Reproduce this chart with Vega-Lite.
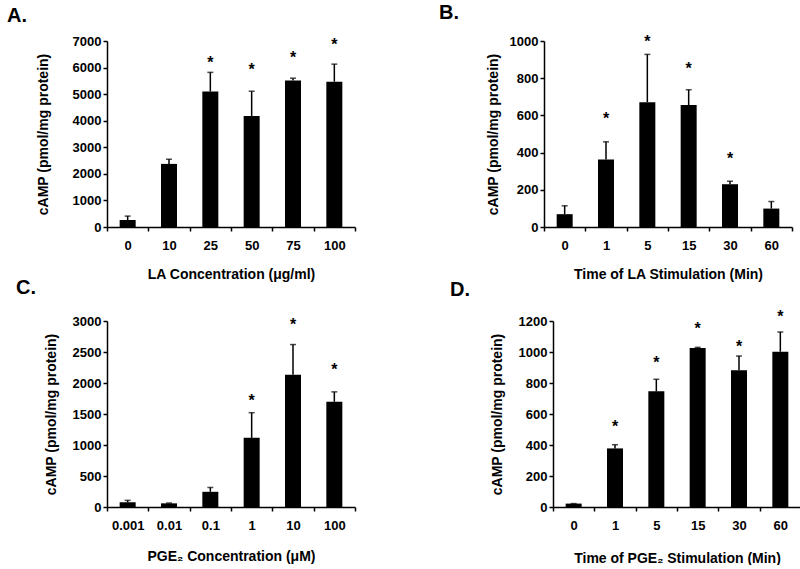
{
"$schema":"https://vega.github.io/schema/vega-lite/v6.json",
"background":"white",
"padding":{"left":7,"top":2,"right":0,"bottom":0},
"spacing":-3,
"config":{"font":"Liberation Sans","view":{"stroke":null},
"axis":{"domainColor":"black","domainWidth":1.5,"tickColor":"black","tickWidth":1.5,"tickSize":4,"labelFont":"Liberation Sans","labelFontWeight":"bold","labelFontSize":13,"labelColor":"black","titleFont":"Liberation Sans","titleFontWeight":"bold","titleFontSize":14,"titleColor":"black","grid":false,"labelOverlap":false},
"axisX":{"labelAngle":0,"tickBand":"extent","labelPadding":8,"titlePadding":15},
"axisY":{"labelPadding":2,"format":"d"},
"title":{"font":"Liberation Sans","fontSize":20,"fontWeight":"bold","color":"black"}},
"vconcat":[
{"spacing":83,"hconcat":[
{"width":248,"height":186,
"title":{"text":"A.","anchor":"start","frame":"group","dx":-100,"offset":9},
"data":{"values":[
{"c":"0","mean":260,"err":410,"star":null},
{"c":"10","mean":2375,"err":2550,"star":null},
{"c":"25","mean":5100,"err":5820,"star":6320},
{"c":"50","mean":4180,"err":5110,"star":6070},
{"c":"75","mean":5510,"err":5600,"star":6500},
{"c":"100","mean":5470,"err":6130,"star":7000}]},
"encoding":{"x":{"field":"c","type":"nominal","sort":null,"scale":{"paddingInner":0,"paddingOuter":0},"axis":{"title":"LA Concentration (μg/ml)"}}},
"layer":[
{"mark":{"type":"bar","size":16,"color":"black"},"encoding":{"y":{"field":"mean","type":"quantitative","title":"cAMP (pmol/mg protein)","scale":{"domain":[0,7000],"nice":false},"axis":{"values":[0,1000,2000,3000,4000,5000,6000,7000],"titlePadding":22}}}},
{"mark":{"type":"rule","color":"black","strokeWidth":1.5},"encoding":{"y":{"field":"mean","type":"quantitative","title":"cAMP (pmol/mg protein)","axis":{"values":[0,1000,2000,3000,4000,5000,6000,7000],"titlePadding":22}},"y2":{"field":"err"}}},
{"mark":{"type":"tick","orient":"horizontal","size":6,"thickness":1.5,"color":"black"},"encoding":{"y":{"field":"err","type":"quantitative","title":"cAMP (pmol/mg protein)","axis":{"values":[0,1000,2000,3000,4000,5000,6000,7000],"titlePadding":22}}}},
{"transform":[{"filter":"datum.star != null"}],"mark":{"type":"text","text":"*","fontSize":16,"fontWeight":"bold","baseline":"alphabetic","dy":9,"color":"black"},"encoding":{"y":{"field":"star","type":"quantitative","title":"cAMP (pmol/mg protein)","axis":{"values":[0,1000,2000,3000,4000,5000,6000,7000],"titlePadding":22}}}}
]},
{"width":248,"height":186,
"title":{"text":"B.","anchor":"start","frame":"group","dx":-105,"offset":11},
"data":{"values":[
{"c":"0","mean":69,"err":114,"star":null},
{"c":"1","mean":363,"err":458,"star":602},
{"c":"5","mean":671,"err":928,"star":1018},
{"c":"15","mean":656,"err":738,"star":873},
{"c":"30","mean":230,"err":246,"star":385},
{"c":"60","mean":99,"err":137,"star":null}]},
"encoding":{"x":{"field":"c","type":"nominal","sort":null,"scale":{"paddingInner":0,"paddingOuter":0},"axis":{"title":"Time of LA Stimulation (Min)"}}},
"layer":[
{"mark":{"type":"bar","size":16,"color":"black"},"encoding":{"y":{"field":"mean","type":"quantitative","title":"cAMP (pmol/mg protein)","scale":{"domain":[0,1000],"nice":false},"axis":{"values":[0,200,400,600,800,1000],"titlePadding":9}}}},
{"mark":{"type":"rule","color":"black","strokeWidth":1.5},"encoding":{"y":{"field":"mean","type":"quantitative","title":"cAMP (pmol/mg protein)","axis":{"values":[0,200,400,600,800,1000],"titlePadding":9}},"y2":{"field":"err"}}},
{"mark":{"type":"tick","orient":"horizontal","size":6,"thickness":1.5,"color":"black"},"encoding":{"y":{"field":"err","type":"quantitative","title":"cAMP (pmol/mg protein)","axis":{"values":[0,200,400,600,800,1000],"titlePadding":9}}}},
{"transform":[{"filter":"datum.star != null"}],"mark":{"type":"text","text":"*","fontSize":16,"fontWeight":"bold","baseline":"alphabetic","dy":9,"color":"black"},"encoding":{"y":{"field":"star","type":"quantitative","title":"cAMP (pmol/mg protein)","axis":{"values":[0,200,400,600,800,1000],"titlePadding":9}}}}
]}
]},
{"spacing":94,"hconcat":[
{"width":248,"height":186,
"title":{"text":"C.","anchor":"start","frame":"group","dx":-91,"offset":17},
"data":{"values":[
{"c":"0.001","mean":75,"err":107,"star":null},
{"c":"0.01","mean":59,"err":64,"star":null},
{"c":"0.1","mean":245,"err":315,"star":null},
{"c":"1","mean":1115,"err":1521,"star":1772},
{"c":"10","mean":2134,"err":2620,"star":3000},
{"c":"100","mean":1697,"err":1857,"star":2279}]},
"encoding":{"x":{"field":"c","type":"nominal","sort":null,"scale":{"paddingInner":0,"paddingOuter":0},"axis":{"title":"PGE₂ Concentration (μM)","titlePadding":17}}},
"layer":[
{"mark":{"type":"bar","size":16,"color":"black"},"encoding":{"y":{"field":"mean","type":"quantitative","title":"cAMP (pmol/mg protein)","scale":{"domain":[0,3000],"nice":false},"axis":{"values":[0,500,1000,1500,2000,2500,3000],"titlePadding":14}}}},
{"mark":{"type":"rule","color":"black","strokeWidth":1.5},"encoding":{"y":{"field":"mean","type":"quantitative","title":"cAMP (pmol/mg protein)","axis":{"values":[0,500,1000,1500,2000,2500,3000],"titlePadding":14}},"y2":{"field":"err"}}},
{"mark":{"type":"tick","orient":"horizontal","size":6,"thickness":1.5,"color":"black"},"encoding":{"y":{"field":"err","type":"quantitative","title":"cAMP (pmol/mg protein)","axis":{"values":[0,500,1000,1500,2000,2500,3000],"titlePadding":14}}}},
{"transform":[{"filter":"datum.star != null"}],"mark":{"type":"text","text":"*","fontSize":16,"fontWeight":"bold","baseline":"alphabetic","dy":9,"color":"black"},"encoding":{"y":{"field":"star","type":"quantitative","title":"cAMP (pmol/mg protein)","axis":{"values":[0,500,1000,1500,2000,2500,3000],"titlePadding":14}}}}
]},
{"width":248,"height":186,
"title":{"text":"D.","anchor":"start","frame":"group","dx":-103,"offset":9},
"data":{"values":[
{"c":"0","mean":22,"err":22,"star":null},
{"c":"1","mean":378,"err":402,"star":544},
{"c":"5","mean":746,"err":824,"star":953},
{"c":"15","mean":1026,"err":1030,"star":1174},
{"c":"30","mean":882,"err":974,"star":1060},
{"c":"60","mean":1002,"err":1129,"star":1249}]},
"encoding":{"x":{"field":"c","type":"nominal","sort":null,"scale":{"paddingInner":0,"paddingOuter":0},"axis":{"title":"Time of PGE₂ Stimulation (Min)","titlePadding":19}}},
"layer":[
{"mark":{"type":"bar","size":16,"color":"black"},"encoding":{"y":{"field":"mean","type":"quantitative","title":"cAMP (pmol/mg protein)","scale":{"domain":[0,1200],"nice":false},"axis":{"values":[0,200,400,600,800,1000,1200],"titlePadding":14}}}},
{"mark":{"type":"rule","color":"black","strokeWidth":1.5},"encoding":{"y":{"field":"mean","type":"quantitative","title":"cAMP (pmol/mg protein)","axis":{"values":[0,200,400,600,800,1000,1200],"titlePadding":14}},"y2":{"field":"err"}}},
{"mark":{"type":"tick","orient":"horizontal","size":6,"thickness":1.5,"color":"black"},"encoding":{"y":{"field":"err","type":"quantitative","title":"cAMP (pmol/mg protein)","axis":{"values":[0,200,400,600,800,1000,1200],"titlePadding":14}}}},
{"transform":[{"filter":"datum.star != null"}],"mark":{"type":"text","text":"*","fontSize":16,"fontWeight":"bold","baseline":"alphabetic","dy":9,"color":"black"},"encoding":{"y":{"field":"star","type":"quantitative","title":"cAMP (pmol/mg protein)","axis":{"values":[0,200,400,600,800,1000,1200],"titlePadding":14}}}}
]}
]}
]
}
